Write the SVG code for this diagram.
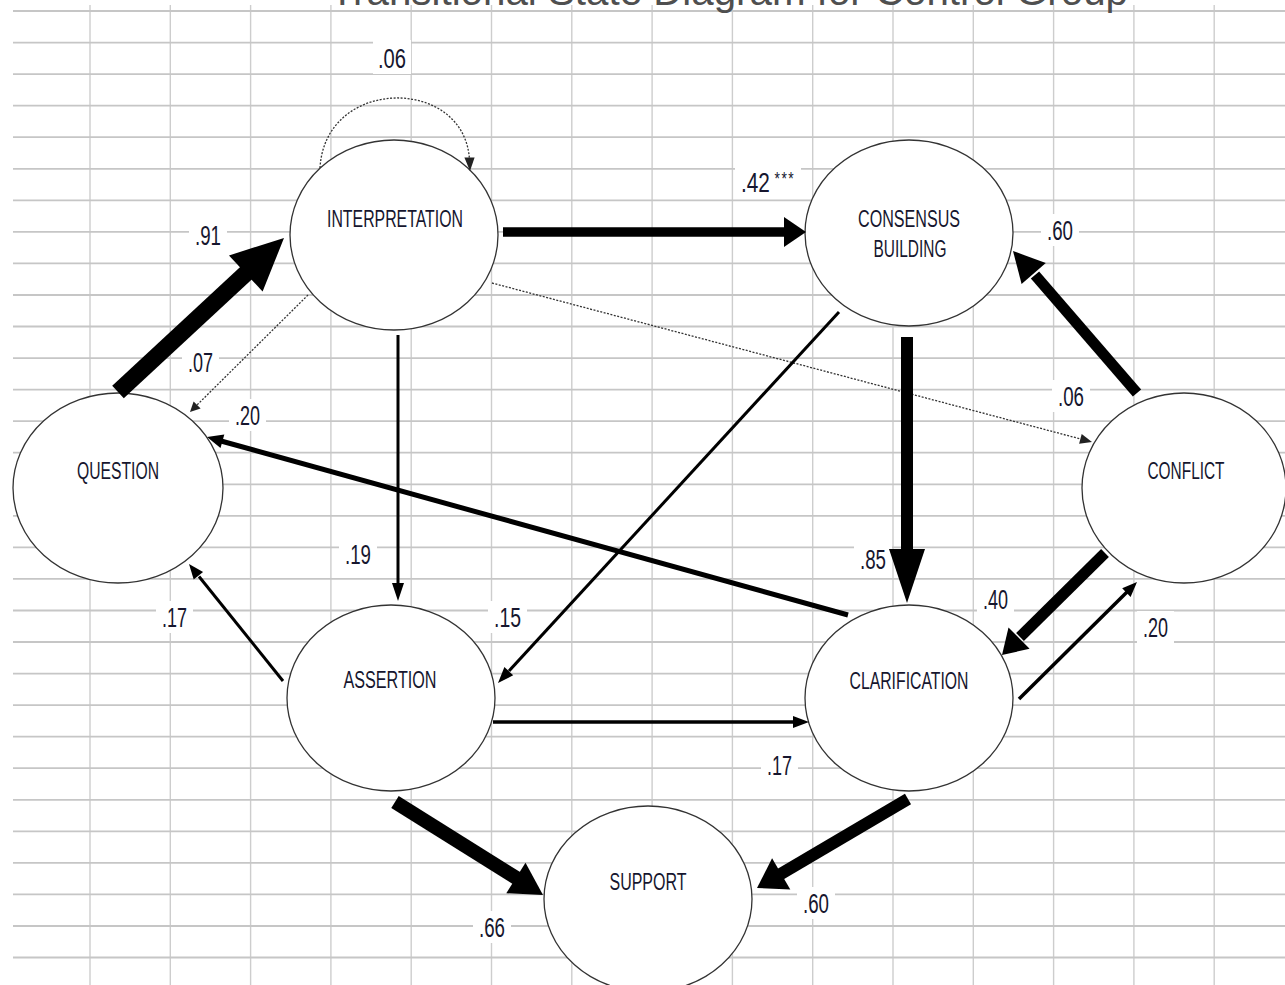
<svg xmlns="http://www.w3.org/2000/svg" width="1285" height="985" viewBox="0 0 1285 985">
<defs>
<style>
.bg{fill:#ffffff}
.gh{stroke:#c6c6c6;stroke-width:1.8}
.gv{stroke:#cdcdcd;stroke-width:1.4}
.title{font-family:"Liberation Sans",Arial,sans-serif;font-size:40px;fill:#4f4f4f}
.node ellipse{fill:#ffffff;stroke:#333333;stroke-width:1.3}
.nl{font-family:"Liberation Sans",Arial,sans-serif;font-size:23px;fill:#16162e;text-anchor:middle}
.lb{font-family:"Liberation Sans",Arial,sans-serif;font-size:27px;fill:#16162e}
.lbs{font-size:18px;letter-spacing:2px}
.box{fill:#ffffff}
.sh{stroke:#000000;fill:none;stroke-linecap:butt}
.hd{fill:#000000;stroke:none}
.dot{stroke:#333333;stroke-width:1.3;fill:none;stroke-dasharray:2 1.5}
.dhd{fill:#222222;stroke:none}
</style>
</defs>
<rect class="bg" x="0" y="0" width="1285" height="985"/>
<g id="grid">
<line class="gv" x1="90" y1="5" x2="90" y2="985"/>
<line class="gv" x1="170.3" y1="5" x2="170.3" y2="985"/>
<line class="gv" x1="250.6" y1="5" x2="250.6" y2="985"/>
<line class="gv" x1="330.9" y1="5" x2="330.9" y2="985"/>
<line class="gv" x1="411.2" y1="5" x2="411.2" y2="985"/>
<line class="gv" x1="491.5" y1="5" x2="491.5" y2="985"/>
<line class="gv" x1="571.8" y1="5" x2="571.8" y2="985"/>
<line class="gv" x1="652.1" y1="5" x2="652.1" y2="985"/>
<line class="gv" x1="732.4" y1="5" x2="732.4" y2="985"/>
<line class="gv" x1="812.7" y1="5" x2="812.7" y2="985"/>
<line class="gv" x1="893" y1="5" x2="893" y2="985"/>
<line class="gv" x1="973.3" y1="5" x2="973.3" y2="985"/>
<line class="gv" x1="1053.6" y1="5" x2="1053.6" y2="985"/>
<line class="gv" x1="1133.9" y1="5" x2="1133.9" y2="985"/>
<line class="gv" x1="1214.2" y1="5" x2="1214.2" y2="985"/>
<line class="gh" x1="13" y1="11" x2="1285" y2="11"/>
<line class="gh" x1="13" y1="42.6" x2="1285" y2="42.6"/>
<line class="gh" x1="13" y1="74.1" x2="1285" y2="74.1"/>
<line class="gh" x1="13" y1="105.7" x2="1285" y2="105.7"/>
<line class="gh" x1="13" y1="137.2" x2="1285" y2="137.2"/>
<line class="gh" x1="13" y1="168.8" x2="1285" y2="168.8"/>
<line class="gh" x1="13" y1="200.3" x2="1285" y2="200.3"/>
<line class="gh" x1="13" y1="231.9" x2="1285" y2="231.9"/>
<line class="gh" x1="13" y1="263.4" x2="1285" y2="263.4"/>
<line class="gh" x1="13" y1="295" x2="1285" y2="295"/>
<line class="gh" x1="13" y1="326.5" x2="1285" y2="326.5"/>
<line class="gh" x1="13" y1="358.1" x2="1285" y2="358.1"/>
<line class="gh" x1="13" y1="389.6" x2="1285" y2="389.6"/>
<line class="gh" x1="13" y1="421.2" x2="1285" y2="421.2"/>
<line class="gh" x1="13" y1="452.7" x2="1285" y2="452.7"/>
<line class="gh" x1="13" y1="484.3" x2="1285" y2="484.3"/>
<line class="gh" x1="13" y1="515.8" x2="1285" y2="515.8"/>
<line class="gh" x1="13" y1="547.4" x2="1285" y2="547.4"/>
<line class="gh" x1="13" y1="578.9" x2="1285" y2="578.9"/>
<line class="gh" x1="13" y1="610.5" x2="1285" y2="610.5"/>
<line class="gh" x1="13" y1="642" x2="1285" y2="642"/>
<line class="gh" x1="13" y1="673.6" x2="1285" y2="673.6"/>
<line class="gh" x1="13" y1="705.1" x2="1285" y2="705.1"/>
<line class="gh" x1="13" y1="736.7" x2="1285" y2="736.7"/>
<line class="gh" x1="13" y1="768.2" x2="1285" y2="768.2"/>
<line class="gh" x1="13" y1="799.8" x2="1285" y2="799.8"/>
<line class="gh" x1="13" y1="831.3" x2="1285" y2="831.3"/>
<line class="gh" x1="13" y1="862.9" x2="1285" y2="862.9"/>
<line class="gh" x1="13" y1="894.4" x2="1285" y2="894.4"/>
<line class="gh" x1="13" y1="926" x2="1285" y2="926"/>
<line class="gh" x1="13" y1="957.5" x2="1285" y2="957.5"/>
</g>
<text class="title" x="330" y="5" textLength="798" lengthAdjust="spacingAndGlyphs">Transitional State Diagram for Control Group</text>
<g id="label-boxes">
<rect class="box" x="373" y="40" width="38" height="34"/>
<rect class="box" x="735" y="168" width="66" height="30"/>
<rect class="box" x="189" y="220" width="38" height="32"/>
<rect class="box" x="182" y="346" width="37" height="32"/>
<rect class="box" x="229" y="399" width="37" height="32"/>
<rect class="box" x="339" y="538" width="38" height="32"/>
<rect class="box" x="156" y="601" width="37" height="32"/>
<rect class="box" x="488" y="601" width="39" height="32"/>
<rect class="box" x="761" y="749" width="37" height="32"/>
<rect class="box" x="473" y="911" width="38" height="32"/>
<rect class="box" x="797" y="887" width="38" height="32"/>
<rect class="box" x="854" y="543" width="38" height="32"/>
<rect class="box" x="1052" y="380" width="38" height="32"/>
<rect class="box" x="977" y="583" width="37" height="32"/>
<rect class="box" x="1137" y="611" width="37" height="32"/>
<rect class="box" x="1041" y="214" width="38" height="32"/>
</g>
<g id="node-interpretation" class="node">
<ellipse cx="394" cy="235" rx="104" ry="95"/>
<text class="nl" x="395" y="227" textLength="136" lengthAdjust="spacingAndGlyphs">INTERPRETATION</text>
</g>
<g id="node-consensus" class="node">
<ellipse cx="909" cy="233" rx="104" ry="93"/>
<text class="nl" x="909" y="227" textLength="102" lengthAdjust="spacingAndGlyphs">CONSENSUS</text>
<text class="nl" x="910" y="257" textLength="73" lengthAdjust="spacingAndGlyphs">BUILDING</text>
</g>
<g id="node-question" class="node">
<ellipse cx="118" cy="488" rx="105" ry="95"/>
<text class="nl" x="118" y="479" textLength="82" lengthAdjust="spacingAndGlyphs">QUESTION</text>
</g>
<g id="node-conflict" class="node">
<ellipse cx="1184" cy="488" rx="102" ry="95"/>
<text class="nl" x="1186" y="479" textLength="77" lengthAdjust="spacingAndGlyphs">CONFLICT</text>
</g>
<g id="node-assertion" class="node">
<ellipse cx="391" cy="698" rx="104" ry="93"/>
<text class="nl" x="390" y="688" textLength="93" lengthAdjust="spacingAndGlyphs">ASSERTION</text>
</g>
<g id="node-clarification" class="node">
<ellipse cx="909" cy="698" rx="104" ry="93"/>
<text class="nl" x="909" y="689" textLength="119" lengthAdjust="spacingAndGlyphs">CLARIFICATION</text>
</g>
<g id="node-support" class="node">
<ellipse cx="648" cy="899" rx="104" ry="93"/>
<text class="nl" x="648" y="890" textLength="77" lengthAdjust="spacingAndGlyphs">SUPPORT</text>
</g>
<g id="connectors">
<path class="dot" d="M320,168 C325,76 465,76 469.5,160"/>
<polygon class="dhd" points="470,171 464.4,157.5 474.6,157.5"/>
<line class="sh" x1="118" y1="392" x2="250" y2="269.5" stroke-width="17"/>
<polygon class="hd" points="284,238 262.6,291.6 229,255.4"/>
<line class="sh" x1="503" y1="232" x2="788" y2="232" stroke-width="9.5"/>
<polygon class="hd" points="806,232 784,217 784,247"/>
<line class="dot" x1="308" y1="295" x2="197" y2="405"/>
<polygon class="dhd" points="190,412 193.6,401.4 200.6,408.5"/>
<line class="dot" x1="492" y1="283" x2="1080" y2="438.8"/>
<polygon class="dhd" points="1092,442 1079.1,443.7 1081.7,434.1"/>
<line class="sh" x1="848" y1="615" x2="221" y2="441" stroke-width="5"/>
<polygon class="hd" points="207,437 224.3,434.6 220.5,448"/>
<line class="sh" x1="398" y1="335" x2="398" y2="586" stroke-width="3"/>
<polygon class="hd" points="398,601 392,583 404,583"/>
<line class="sh" x1="283" y1="681" x2="199" y2="576.5" stroke-width="3"/>
<polygon class="hd" points="189,564 203.1,571.9 193.7,579.5"/>
<line class="sh" x1="839" y1="312" x2="509" y2="671" stroke-width="3"/>
<polygon class="hd" points="498,683 504.4,667.1 513.2,675.3"/>
<line class="sh" x1="907" y1="337" x2="907" y2="552" stroke-width="12"/>
<polygon class="hd" points="907,603 889,549 925,549"/>
<line class="sh" x1="1137" y1="393" x2="1035" y2="275" stroke-width="11"/>
<polygon class="hd" points="1013,251 1045.8,263.1 1021.6,284.1"/>
<line class="sh" x1="1105" y1="553" x2="1020" y2="637" stroke-width="11"/>
<polygon class="hd" points="1002,655 1008.5,627.4 1029.6,648.8"/>
<line class="sh" x1="1019" y1="699" x2="1127" y2="592" stroke-width="3.5"/>
<polygon class="hd" points="1137,582 1130.6,596.9 1122.2,588.3"/>
<line class="sh" x1="493" y1="722" x2="795" y2="722" stroke-width="3.5"/>
<polygon class="hd" points="809,722 793,716 793,728"/>
<line class="sh" x1="395" y1="802" x2="518" y2="879" stroke-width="14"/>
<polygon class="hd" points="543,895 506.3,893.2 525.5,862.8"/>
<line class="sh" x1="908" y1="799" x2="779" y2="875" stroke-width="12"/>
<polygon class="hd" points="757,888 772.1,858.3 790.3,889.5"/>
</g>
<g id="edge-labels">
<text class="lb" x="378" y="68" textLength="28" lengthAdjust="spacingAndGlyphs">.06</text>
<text class="lb" transform="translate(741,192) scale(0.77,1)" x="0" y="0">.42<tspan class="lbs" dx="6" dy="-7">***</tspan></text>
<text class="lb" x="195" y="245" textLength="26" lengthAdjust="spacingAndGlyphs">.91</text>
<text class="lb" x="188" y="372" textLength="25" lengthAdjust="spacingAndGlyphs">.07</text>
<text class="lb" x="235" y="425" textLength="25" lengthAdjust="spacingAndGlyphs">.20</text>
<text class="lb" x="345" y="564" textLength="26" lengthAdjust="spacingAndGlyphs">.19</text>
<text class="lb" x="162" y="627" textLength="25" lengthAdjust="spacingAndGlyphs">.17</text>
<text class="lb" x="494" y="627" textLength="27" lengthAdjust="spacingAndGlyphs">.15</text>
<text class="lb" x="767" y="775" textLength="25" lengthAdjust="spacingAndGlyphs">.17</text>
<text class="lb" x="479" y="937" textLength="26" lengthAdjust="spacingAndGlyphs">.66</text>
<text class="lb" x="803" y="913" textLength="26" lengthAdjust="spacingAndGlyphs">.60</text>
<text class="lb" x="860" y="569" textLength="26" lengthAdjust="spacingAndGlyphs">.85</text>
<text class="lb" x="1058" y="406" textLength="26" lengthAdjust="spacingAndGlyphs">.06</text>
<text class="lb" x="983" y="609" textLength="25" lengthAdjust="spacingAndGlyphs">.40</text>
<text class="lb" x="1143" y="637" textLength="25" lengthAdjust="spacingAndGlyphs">.20</text>
<text class="lb" x="1047" y="240" textLength="26" lengthAdjust="spacingAndGlyphs">.60</text>
</g>
</svg>
